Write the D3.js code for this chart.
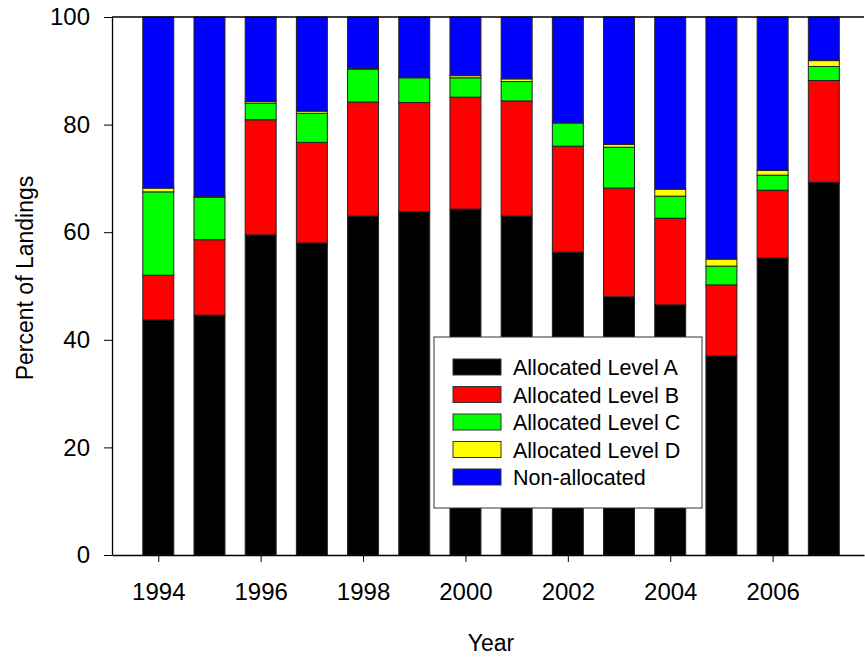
<!DOCTYPE html>
<html>
<head>
<meta charset="utf-8">
<script src="https://cdn.jsdelivr.net/npm/d3@7/dist/d3.min.js"></script>
<style>
  html, body { margin: 0; padding: 0; background: #fff; }
  svg { display: block; font-family: "Liberation Sans", Arial, sans-serif; }
</style>
</head>
<body>
<svg id="chart" width="865" height="659"></svg>
<script>
// ---- Data ----
const years = [1994, 1995, 1996, 1997, 1998, 1999, 2000, 2001, 2002, 2003, 2004, 2005, 2006, 2007];
const levelA = [43.7, 44.6, 59.5, 58.0, 63.0, 63.8, 64.3, 63.0, 56.3, 48.0, 46.5, 37.0, 55.2, 69.3];
const levelB = [8.3, 14.0, 21.4, 18.7, 21.2, 20.3, 20.8, 21.4, 19.7, 20.2, 16.1, 13.2, 12.6, 18.9];
const levelC = [15.5, 7.9, 3.1, 5.4, 6.1, 4.6, 3.6, 3.6, 4.3, 7.6, 4.1, 3.5, 2.8, 2.6];
const levelD = [0.7, 0.1, 0.3, 0.4, 0.2, 0.1, 0.4, 0.5, 0.0, 0.5, 1.3, 1.3, 0.9, 1.1];
const nonAllocated = [31.8, 33.4, 15.7, 17.5, 9.5, 11.2, 10.9, 11.5, 19.7, 23.7, 32.0, 45.0, 28.5, 8.1];
const seriesNames = ["Allocated Level A", "Allocated Level B", "Allocated Level C", "Allocated Level D", "Non-allocated"];
const seriesColors = ["#000000", "#ff0000", "#00ff00", "#ffff00", "#0000ff"];
const xTicks = [1994, 1996, 1998, 2000, 2002, 2004, 2006];
const yTicks = [0, 20, 40, 60, 80, 100];

// ---- Layout ----
const svg = d3.select("#chart");
const plotLeft = 112, plotRight = 864, plotTop = 17, plotBottom = 555;

const x = d3.scaleLinear().domain([1993.096, 2007.785]).range([plotLeft, plotRight]);
const y = d3.scaleLinear().domain([0, 100]).range([plotBottom, plotTop]);
const barW = (x(1995) - x(1994)) * 0.605;

const rows = years.map((yr, i) => ({
  year: yr,
  A: levelA[i], B: levelB[i], C: levelC[i], D: levelD[i], N: nonAllocated[i]
}));
const keys = ["A", "B", "C", "D", "N"];
const stacked = d3.stack().keys(keys)(rows);

// ---- Bars ----
const g = svg.append("g");
g.selectAll("g.series")
  .data(stacked)
  .join("g")
  .attr("class", "series")
  .attr("fill", (d, i) => seriesColors[i])
  .selectAll("rect")
  .data(d => d)
  .join("rect")
  .attr("x", d => x(d.data.year) - barW / 2)
  .attr("y", d => y(d[1]))
  .attr("width", barW)
  .attr("height", d => Math.max(0, y(d[0]) - y(d[1])))
  .attr("stroke", "#222")
  .attr("stroke-width", 1);

// ---- Axes ----
const fontTick = "24px";
const xAxis = d3.axisBottom(x).tickValues(xTicks).tickFormat(d3.format("d"))
  .tickSizeInner(7).tickSizeOuter(0).tickPadding(21);
const gx = svg.append("g").attr("transform", `translate(0,${plotBottom})`).call(xAxis);
gx.selectAll("text").attr("font-size", fontTick).attr("fill", "#000").attr("font-family", "Liberation Sans, Arial, sans-serif");
gx.selectAll("line").attr("stroke", "#000").attr("stroke-width", 1);
gx.select(".domain").attr("stroke", "#000").attr("stroke-width", 1.3);

const yAxis = d3.axisLeft(y).tickValues(yTicks)
  .tickSizeInner(8).tickSizeOuter(0).tickPadding(14);
const gy = svg.append("g").attr("transform", `translate(${plotLeft},0)`).call(yAxis);
gy.selectAll("text").attr("font-size", fontTick).attr("fill", "#000").attr("font-family", "Liberation Sans, Arial, sans-serif");
gy.selectAll("line").attr("stroke", "#000").attr("stroke-width", 1);
gy.select(".domain").attr("stroke", "#000").attr("stroke-width", 1.3);

// top frame line
svg.append("line")
  .attr("x1", plotLeft).attr("x2", plotRight)
  .attr("y1", y(100)).attr("y2", y(100))
  .attr("stroke", "#000").attr("stroke-width", 1.3);

// ---- Titles ----
svg.append("text")
  .attr("x", 491).attr("y", 651)
  .attr("text-anchor", "middle")
  .attr("font-size", "23px")
  .text("Year");

svg.append("text")
  .attr("transform", `translate(33,${(plotTop + plotBottom) / 2 - 8}) rotate(-90)`)
  .attr("text-anchor", "middle")
  .attr("font-size", "23px")
  .text("Percent of Landings");

// ---- Legend ----
const lg = svg.append("g");
lg.append("rect")
  .attr("x", 434).attr("y", 337).attr("width", 268).attr("height", 171)
  .attr("fill", "#fff").attr("stroke", "#333").attr("stroke-width", 1);
const items = lg.selectAll("g.item")
  .data(seriesNames)
  .join("g")
  .attr("class", "item")
  .attr("transform", (d, i) => `translate(453,${359 + i * 27.5})`);
items.append("rect")
  .attr("width", 48).attr("height", 16)
  .attr("fill", (d, i) => seriesColors[i])
  .attr("stroke", "#333").attr("stroke-width", 1);
items.append("text")
  .attr("x", 60).attr("y", 16)
  .attr("font-size", "21.5px")
  .text(d => d);
</script>
</body>
</html>
